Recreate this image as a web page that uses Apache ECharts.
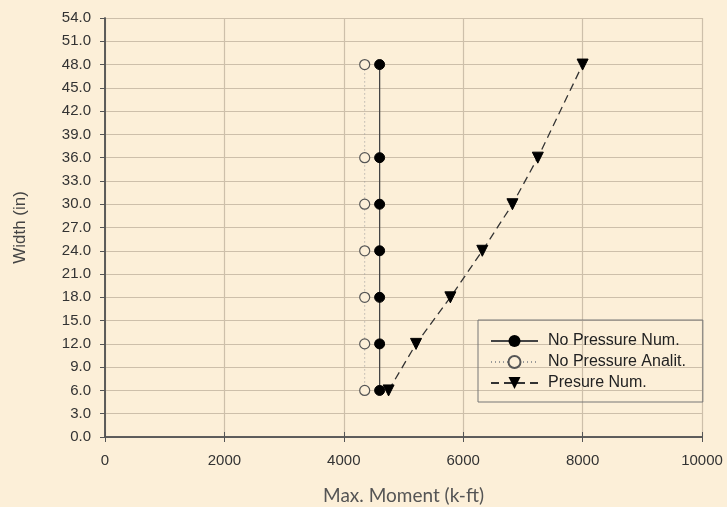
<!DOCTYPE html>
<html>
<head>
<meta charset="utf-8">
<script src="https://cdn.jsdelivr.net/npm/echarts@6/dist/echarts.min.js"></script>
<style>
  html, body { margin: 0; padding: 0; background: #FCEFD8; }
  #chart { width: 727px; height: 507px; }
</style>
</head>
<body>
<div id="chart"></div>
<script>
    // widths (in) and max moments (k-ft)
    var widths = [6, 12, 18, 24, 30, 36, 48];
    var noPressureNum = [4600, 4600, 4600, 4600, 4600, 4600, 4600];
    var noPressureAnalit = [4350, 4350, 4350, 4350, 4350, 4350, 4350];
    var presureNum = [4750, 5210, 5785, 6320, 6825, 7250, 8000];

    function pairs(xs) {
        return xs.map(function (x, i) { return [x, widths[i]]; });
    }

    var gridColor = '#CDBFAA';
    var axisColor = '#555';
    var labelFont = 'Liberation Sans, Arial, sans-serif';

    var myChart = echarts.init(document.getElementById('chart'));

    var option = {
        backgroundColor: '#FCEFD8',
        animation: false,
        grid: { left: 105, right: 25, top: 18, bottom: 70, outerBoundsMode: 'none' },
        legend: {
            orient: 'vertical',
            left: 478,
            top: 320,
            padding: [13, 17, 11, 12],
            itemGap: 5,
            itemWidth: 47,
            itemHeight: 15,
            borderColor: '#777',
            borderWidth: 1,
            textStyle: { fontFamily: labelFont, fontSize: 16, color: '#222', padding: [0, 0, 0, 5] },
            data: ['No Pressure Num.', 'No Pressure Analit.', 'Presure Num.']
        },
        xAxis: [{
            type: 'value',
            min: 0, max: 10000, interval: 2000,
            name: 'Max. Moment (k-ft)',
            nameLocation: 'middle',
            nameGap: 49,
            nameTextStyle: { fontFamily: 'Lato, sans-serif', fontSize: 19, color: '#555' },
            axisLine: { show: true, lineStyle: { color: axisColor, width: 1.5 } },
            axisTick: { show: true, length: 5, lineStyle: { color: axisColor } },
            axisLabel: {
                margin: 16, fontFamily: labelFont, fontSize: 15, color: '#333',
                formatter: function (v) { return String(v); }
            },
            splitLine: { show: true, lineStyle: { color: gridColor, width: 1.2 } }
        }, {
            type: 'value', position: 'top',
            min: 0, max: 10000, interval: 2000,
            axisLine: { show: true, lineStyle: { color: axisColor, width: 1.5 } },
            axisTick: { show: true, length: 5, lineStyle: { color: axisColor } },
            axisLabel: { show: false },
            splitLine: { show: false }
        }],
        yAxis: [{
            type: 'value',
            min: 0, max: 54, interval: 3,
            name: 'Width (in)',
            nameLocation: 'middle',
            nameGap: 76,
            nameTextStyle: { fontFamily: labelFont, fontSize: 17, color: '#444' },
            axisLine: { show: true, lineStyle: { color: axisColor, width: 1.5 } },
            axisTick: { show: true, length: 5, lineStyle: { color: axisColor } },
            axisLabel: {
                margin: 14, fontFamily: labelFont, fontSize: 15, color: '#333',
                formatter: function (v) { return v.toFixed(1); }
            },
            splitLine: { show: true, lineStyle: { color: gridColor, width: 1.2 } }
        }, {
            type: 'value', position: 'right',
            min: 0, max: 54, interval: 3,
            axisLine: { show: true, lineStyle: { color: axisColor, width: 1.5 } },
            axisTick: { show: true, inside: true, length: 4, lineStyle: { color: axisColor } },
            axisLabel: { show: false },
            splitLine: { show: false }
        }],
        series: [{
            name: 'No Pressure Analit.',
            type: 'line',
            data: pairs(noPressureAnalit),
            symbol: 'circle',
            symbolSize: 10,
            lineStyle: { color: '#999', width: 1, type: [1, 3] },
            itemStyle: { color: '#FCEFD8', borderColor: '#555', borderWidth: 1.2 }
        }, {
            name: 'No Pressure Num.',
            type: 'line',
            data: pairs(noPressureNum),
            symbol: 'circle',
            symbolSize: 10,
            lineStyle: { color: '#444', width: 1.3 },
            itemStyle: { color: '#000', borderColor: '#000' }
        }, {
            name: 'Presure Num.',
            type: 'line',
            data: pairs(presureNum),
            symbol: 'triangle',
            symbolRotate: 180,
            symbolSize: 11,
            lineStyle: { color: '#333', width: 1.3, type: [8, 5] },
            itemStyle: { color: '#000', borderColor: '#000' }
        }]
    };

    myChart.setOption(option);
</script>
</body>
</html>
